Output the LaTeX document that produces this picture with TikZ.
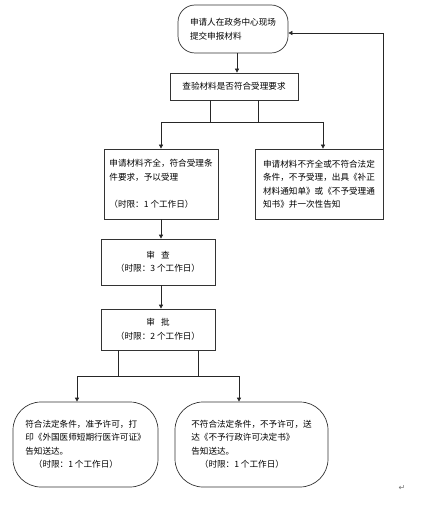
\documentclass[tikz,border=0pt]{standalone}
\usepackage{fontspec}
\setmainfont{Noto Sans CJK SC}
\newfontfamily\symfont{DejaVu Sans}
\usetikzlibrary{arrows.meta}
\begin{document}
\begin{tikzpicture}[x=1pt,y=-1pt,
  box/.style={draw=black!80, line width=0.7pt, inner sep=0pt,
    font=\fontsize{8.6}{13.5}\selectfont},
  line/.style={draw=black!85, line width=0.7pt},
  arr/.style={line, -{Triangle[length=4pt,width=4pt]}}]
\useasboundingbox (0,0) rectangle (421,505);

\node[box, rounded corners=17pt, minimum width=110pt, minimum height=48pt, align=left]
  (top) at (233,29) {申请人在政务中心现场\\提交申报材料};
\node[box, minimum width=128pt, minimum height=27pt, align=center]
  (chk) at (234,86.5) {查验材料是否符合受理要求};
\node[box, minimum width=114pt, minimum height=70pt, align=left]
  (lbox) at (161,184) {申请材料齐全，符合受理条\\件要求，予以受理\\[13.5pt]（时限：1 个工作日）};
\node[box, minimum width=128pt, minimum height=70pt, align=left]
  (rbox) at (319,184) {申请材料不齐全或不符合法定\\条件，不予受理，出具《补正\\材料通知单》或《不予受理通\\知书》并一次性告知};
\node[box, minimum width=114pt, minimum height=46pt, align=center]
  (shen) at (158,262) {审\hspace{0.7em}查\\（时限：3 个工作日）};
\node[box, minimum width=114pt, minimum height=41pt, align=center]
  (pi) at (158,329.5) {审\hspace{0.7em}批\\（时限：2 个工作日）};
\node[box, rounded corners=28pt, minimum width=145pt, minimum height=85pt, align=left]
  (ok) at (85.5,444.5) {符合法定条件，准予许可，打\\印《外国医师短期行医许可证》\\告知送达。\\\hspace*{1em}（时限：1 个工作日）};
\node[box, rounded corners=28pt, minimum width=153pt, minimum height=85pt, align=left]
  (no) at (251.5,444.5) {不符合法定条件，不予许可，送\\达《不予行政许可决定书》\\告知送达。\\\hspace*{1em}（时限：1 个工作日）};
\node[text=black!55, font=\symfont\fontsize{8}{8}\selectfont] (ret) at (402,488) {↵};

% top -> check
\draw[arr] ([xshift=4pt]top.south) -- ([xshift=4pt]top.south |- chk.north);

% check -> two branches
\coordinate (j1) at (161,122);
\coordinate (j2) at (323,122);
\draw[line] ([xshift=-24pt]chk.south) -- ([xshift=-24pt]chk.south |- j1);
\draw[line] ([xshift=24pt]chk.south) -- ([xshift=24pt]chk.south |- j1);
\draw[line] (j1) -- (j2);
\draw[arr] (j1) -- (j1 |- lbox.north);
\draw[arr] (j2) -- (j2 |- rbox.north);

% feedback
\draw[arr] (rbox.north east) |- ([yshift=-4pt]top.east);

% left -> 审查 -> 审批
\draw[arr] (lbox.south) -- (lbox.south |- shen.north);
\draw[arr] (lbox.south |- shen.south) -- (lbox.south |- pi.north);

% 审批 -> two results
\coordinate (j3) at (77,376);
\coordinate (j4) at (239,376);
\draw[line] ([xshift=-40pt]pi.south) -- ([xshift=-40pt]pi.south |- j3);
\draw[line] ([xshift=40pt]pi.south) -- ([xshift=40pt]pi.south |- j3);
\draw[line] (j3) -- (j4);
\draw[arr] (j3) -- (j3 |- ok.north);
\draw[arr] (j4) -- (j4 |- no.north);
\end{tikzpicture}
\end{document}
